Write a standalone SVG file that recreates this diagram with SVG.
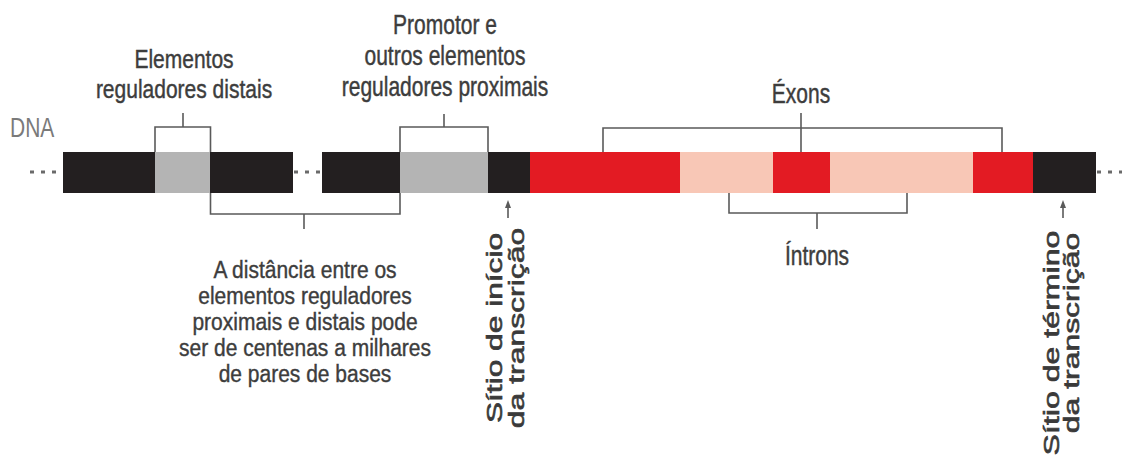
<svg xmlns="http://www.w3.org/2000/svg" width="1122" height="458" viewBox="0 0 1122 458">
<style>
.t{font-family:"Liberation Sans",Arial,sans-serif;font-size:21px;fill:#3d3d3d;stroke:#3d3d3d;stroke-width:0.35;text-anchor:middle}
.r{font-family:"Liberation Sans",Arial,sans-serif;font-size:22px;fill:#3a3a3a;stroke:#3a3a3a;stroke-width:0.6;text-anchor:middle}
.dna{font-family:"Liberation Sans",Arial,sans-serif;font-size:21px;fill:#7a7a7a}
.br{fill:none;stroke:#5a5a5a;stroke-width:1.6}
.dots{stroke:#6a6a6a;stroke-width:3;stroke-dasharray:4 7}
.arr{fill:#5a5a5a}
.blk{fill:#231f20}.gry{fill:#b4b4b4}.red{fill:#e31b23}.pnk{fill:#f8c7b6}
</style>
<rect width="1122" height="458" fill="#ffffff"/>

<g id="dna-label"><text class="dna" transform="translate(10,137) scale(1,1.3)">DNA</text></g>

<g id="dna-strand">
<line class="dots" x1="30" y1="172" x2="62" y2="172"/>
<line class="dots" x1="294" y1="172" x2="322" y2="172"/>
<line class="dots" x1="1097" y1="172" x2="1122" y2="172"/>
<rect class="blk" x="63" y="152" width="93" height="41"/>
<rect id="distal" class="gry" x="155" y="152" width="56" height="41"/>
<rect class="blk" x="210" y="152" width="83" height="41"/>
<rect class="blk" x="322" y="152" width="79" height="41"/>
<rect id="proximal" class="gry" x="400" y="152" width="89" height="41"/>
<rect class="blk" x="488" y="152" width="43" height="41"/>
<rect class="red" x="530" y="152" width="151" height="41"/>
<rect class="pnk" x="680" y="152" width="94" height="41"/>
<rect class="red" x="773" y="152" width="58" height="41"/>
<rect class="pnk" x="830" y="152" width="144" height="41"/>
<rect class="red" x="973" y="152" width="61" height="41"/>
<rect class="blk" x="1033" y="152" width="63" height="41"/>
</g>

<g id="connectors">
<path class="br" d="M155,152 V127 H210.5 V152 M183,127 V113"/>
<path class="br" d="M400,152 V127 H488 V152 M444,127 V114"/>
<path class="br" d="M603,152 V128 H1002 V152 M801,113 V152"/>
<path class="br" d="M210.5,193 V214 H400 V193 M304,214 V229"/>
<path class="br" d="M729,193 V213 H907 V193 M817,213 V229"/>
<line class="br" x1="508" y1="218" x2="508" y2="206" stroke-width="1.4"/>
<path class="arr" d="M505,208 L508,200 L511,208 Z"/>
<line class="br" x1="1063" y1="218" x2="1063" y2="206" stroke-width="1.4"/>
<path class="arr" d="M1060,208 L1063,200 L1066,208 Z"/>
</g>

<g id="label-distal">
<text class="t" transform="translate(184,68) scale(1,1.27)">Elementos</text>
<text class="t" transform="translate(184,98) scale(1,1.27)">reguladores distais</text>
</g>

<g id="label-proximal">
<text class="t" transform="translate(445,34) scale(1,1.3)">Promotor e</text>
<text class="t" transform="translate(445,65) scale(1,1.3)">outros elementos</text>
<text class="t" transform="translate(445,96) scale(1,1.3)">reguladores proximais</text>
</g>

<g id="label-exons"><text class="t" transform="translate(801,103) scale(1,1.3)">Éxons</text></g>
<g id="label-introns"><text class="t" transform="translate(817,265) scale(1,1.3)">Íntrons</text></g>

<g id="label-distance">
<text class="t" transform="translate(305,278) scale(1,1.1)">A distância entre os</text>
<text class="t" transform="translate(305,304) scale(1,1.1)">elementos reguladores</text>
<text class="t" transform="translate(305,330) scale(1,1.1)">proximais e distais pode</text>
<text class="t" transform="translate(305,356) scale(1,1.1)">ser de centenas a milhares</text>
<text class="t" transform="translate(305,382) scale(1,1.1)">de pares de bases</text>
</g>

<g id="label-start">
<text class="r" transform="translate(502,328) rotate(-90) scale(1.44,1)">Sítio de início</text>
<text class="r" transform="translate(524,328) rotate(-90) scale(1.45,1)">da transcrição</text>
</g>

<g id="label-end">
<text class="r" transform="translate(1059,343) rotate(-90) scale(1.46,1)">Sítio de término</text>
<text class="r" transform="translate(1079,333) rotate(-90) scale(1.45,1)">da transcrição</text>
</g>
</svg>
